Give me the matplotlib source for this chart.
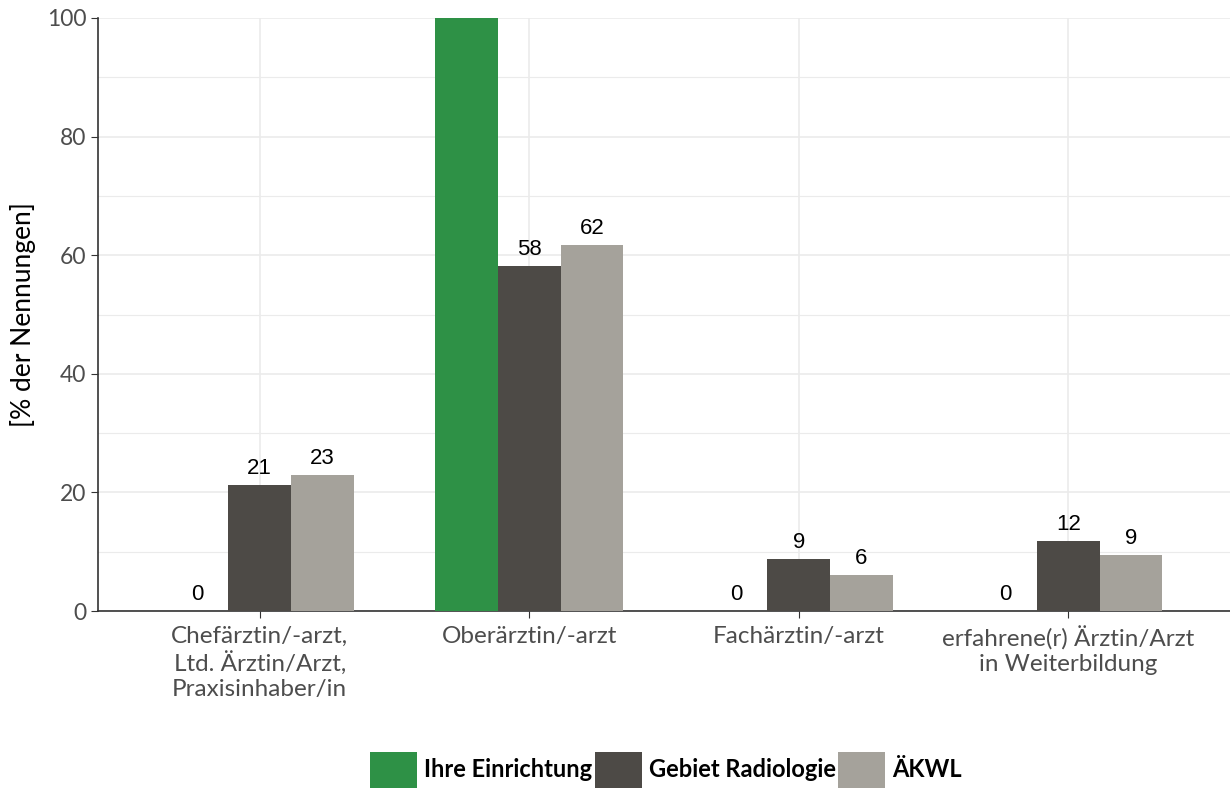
import numpy as np
import matplotlib
matplotlib.use("Agg")
import matplotlib.pyplot as plt
from matplotlib.patches import Patch

categories = ["Chefärztin/-arzt,\nLtd. Ärztin/Arzt,\nPraxisinhaber/in",
              "Oberärztin/-arzt",
              "Fachärztin/-arzt",
              "erfahrene(r) Ärztin/Arzt\nin Weiterbildung"]
series_names = ["Ihre Einrichtung", "Gebiet Radiologie", "ÄKWL"]
einrichtung = [0, 100, 0, 0]
radiologie = [21.3, 58.2, 8.7, 11.8]
aekwl = [23.0, 61.8, 6.0, 9.4]
colors = ["#2e9146", "#4d4a46", "#a5a29b"]

plt.rcParams['font.family'] = ['Lato', 'DejaVu Sans']

fig = plt.figure(figsize=(12.3, 7.91), dpi=100)
ax = fig.add_axes([98 / 1230, 1 - 611 / 791, (1230 - 98) / 1230, (611 - 18) / 791])

x = np.arange(len(categories))
w = 0.233
for i, vals in enumerate([einrichtung, radiologie, aekwl]):
    pos = x + (i - 1) * w
    ax.bar(pos, vals, width=w, color=colors[i], zorder=3)
    for p, v in zip(pos, vals):
        if v >= 99.5:
            continue
        ax.text(p, v + 1.0, f"{v:.0f}", ha="center", va="bottom",
                fontsize=16, family="Liberation Sans", color="black")

ax.set_xlim(-0.6, 3.6)
ax.set_ylim(0, 100)
ax.set_yticks([0, 20, 40, 60, 80, 100])
ax.set_yticks([10, 30, 50, 70, 90], minor=True)
ax.set_xticks(x)
ax.set_xticklabels(categories, fontsize=17.5, color="#4d4d4d", linespacing=1.22)
ax.tick_params(axis="y", labelsize=16.5, labelcolor="#4d4d4d", length=5, color="#333333")
ax.tick_params(axis="y", which="minor", length=0)
ax.tick_params(axis="x", length=5, color="#333333", pad=6)
ax.grid(True, which="major", color="#ebebeb", linewidth=1.2, zorder=0)
ax.grid(True, which="minor", axis="y", color="#ebebeb", linewidth=0.8, zorder=0)
for s in ["top", "right"]:
    ax.spines[s].set_visible(False)
for s in ["left", "bottom"]:
    ax.spines[s].set_color("#333333")
    ax.spines[s].set_linewidth(1.2)
ax.set_ylabel("[% der Nennungen]", fontsize=19, color="black", labelpad=8)

handles = [Patch(facecolor=c, label=n) for c, n in zip(colors, series_names)]
fig.legend(handles=handles, loc="center", bbox_to_anchor=(666 / 1230, 1 - 770 / 791),
           ncol=3, frameon=False, prop={"weight": "bold", "size": 17},
           handlelength=2.0, handleheight=2.0, handletextpad=0.3, columnspacing=0.1)

fig.savefig("out.png", dpi=100)
